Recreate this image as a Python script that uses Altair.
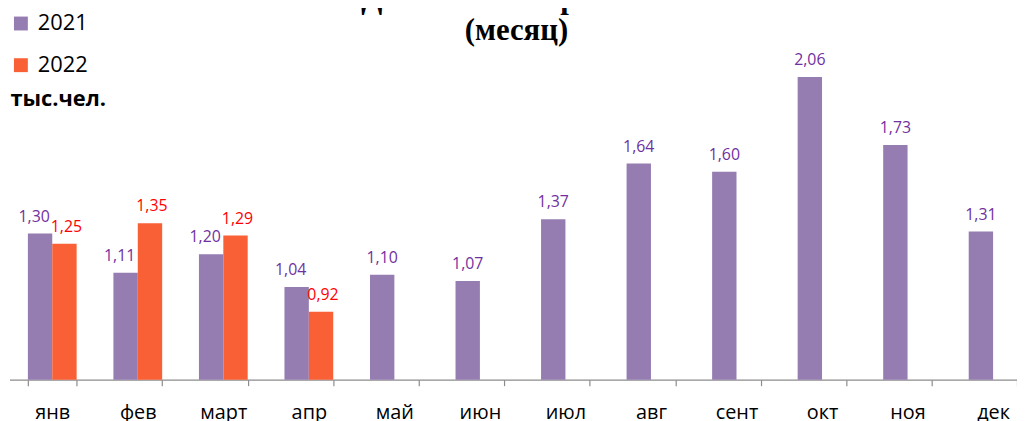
import altair as alt
import pandas as pd

months = ["янв", "фев", "март", "апр", "май", "июн", "июл", "авг", "сент", "окт", "ноя", "дек"]
values_2021 = [1.30, 1.11, 1.20, 1.04, 1.10, 1.07, 1.37, 1.64, 1.60, 2.06, 1.73, 1.31]
values_2022 = [1.25, 1.35, 1.29, 0.92]
years = ["2021", "2022"]

paired_months = months[: len(values_2022)]
rows = []
for m, v in zip(months, values_2021):
    rows.append({"month": m, "year": "2021", "value": v, "paired": m in paired_months})
for m, v in zip(months, values_2022):
    rows.append({"month": m, "year": "2022", "value": v, "paired": True})
df = pd.DataFrame(rows)
df["label"] = df["value"].map(lambda v: f"{v:.2f}".replace(".", ","))

Y_MIN = 0.59
Y_MAX = 2.195
PURPLE = "#957DB2"
ORANGE = "#F96036"
PURPLE_TXT = "#7030A0"
RED_TXT = "#FF0000"

x_enc = alt.X(
    "month:N",
    sort=months,
    scale=alt.Scale(range=[1.5, 1036], paddingInner=0.43, paddingOuter=0.215),
    axis=alt.Axis(
        title=None,
        labelAngle=0,
        labelFont="Open Sans",
        labelFontSize=20,
        labelColor="#000000",
        labelPadding=17,
        domainColor="#8C8C8C",
        domainWidth=1.2,
        tickColor="#8C8C8C",
        tickWidth=1.2,
        tickSize=6,
        tickBand="extent",
        grid=False,
    ),
)
xoff_enc = alt.XOffset("year:N", scale=alt.Scale(domain=years, paddingInner=0, paddingOuter=0))
y_scale = alt.Scale(domain=[Y_MIN, Y_MAX], zero=False, nice=False)

bars = alt.Chart(df).mark_bar().encode(
    x=x_enc,
    xOffset=xoff_enc,
    y=alt.Y(
        "value:Q",
        scale=y_scale,
        axis=alt.Axis(
            title="тыс.чел.",
            labels=False,
            ticks=False,
            domain=False,
            grid=False,
            titleAngle=0,
            titleX=2,
            titleY=57,
            titleAlign="left",
            titleBaseline="alphabetic",
            titleFont="Open Sans",
            titleFontSize=22,
            titleFontWeight="bold",
            titleColor="#000000",
        ),
    ),
    y2=alt.datum(Y_MIN),
    color=alt.Color(
        "year:N",
        scale=alt.Scale(domain=years, range=[PURPLE, ORANGE]),
        legend=alt.Legend(
            title=None,
            orient="none",
            legendX=2,
            legendY=-37,
            symbolType="square",
            symbolSize=196,
            symbolStrokeWidth=0,
            labelFont="Open Sans",
            labelFontSize=22,
            labelColor="#000000",
            labelOffset=6,
            rowPadding=20,
        ),
    ),
)


def label_layer(filter_expr, dx):
    return (
        alt.Chart(df)
        .transform_filter(filter_expr)
        .mark_text(baseline="alphabetic", dy=-12, dx=dx, font="Open Sans", fontSize=16)
        .encode(
            x=alt.X("month:N", sort=months),
            xOffset=alt.XOffset("year:N"),
            y=alt.Y("value:Q"),
            text="label:N",
            color=alt.condition(alt.datum.year == "2021", alt.value(PURPLE_TXT), alt.value(RED_TXT)),
        )
    )


labels_21_paired = label_layer("datum.year == '2021' && datum.paired", -6)
labels_22 = label_layer("datum.year == '2022'", 2)
labels_single = label_layer("!datum.paired", 0)

chart = (
    alt.layer(bars, labels_21_paired, labels_22, labels_single)
    .properties(
        width=1017,
        height=333,
        padding={"left": 0, "right": 0, "top": 40, "bottom": 40},
        autosize=alt.AutoSizeParams(type="none"),
        background="#FFFFFF",
        title=alt.TitleParams(
            text=["Динамика смертности", "(месяц)"],
            font="Liberation Serif",
            fontSize=31,
            fontWeight="bold",
            lineHeight=33,
            color="#000000",
            anchor="middle",
            offset=4,
            dy=39,
            dx=4,
        ),
    )
    .configure_view(strokeWidth=0, stroke="transparent")
)

chart.save("out.html", embed_options={"renderer": "svg", "actions": False})
